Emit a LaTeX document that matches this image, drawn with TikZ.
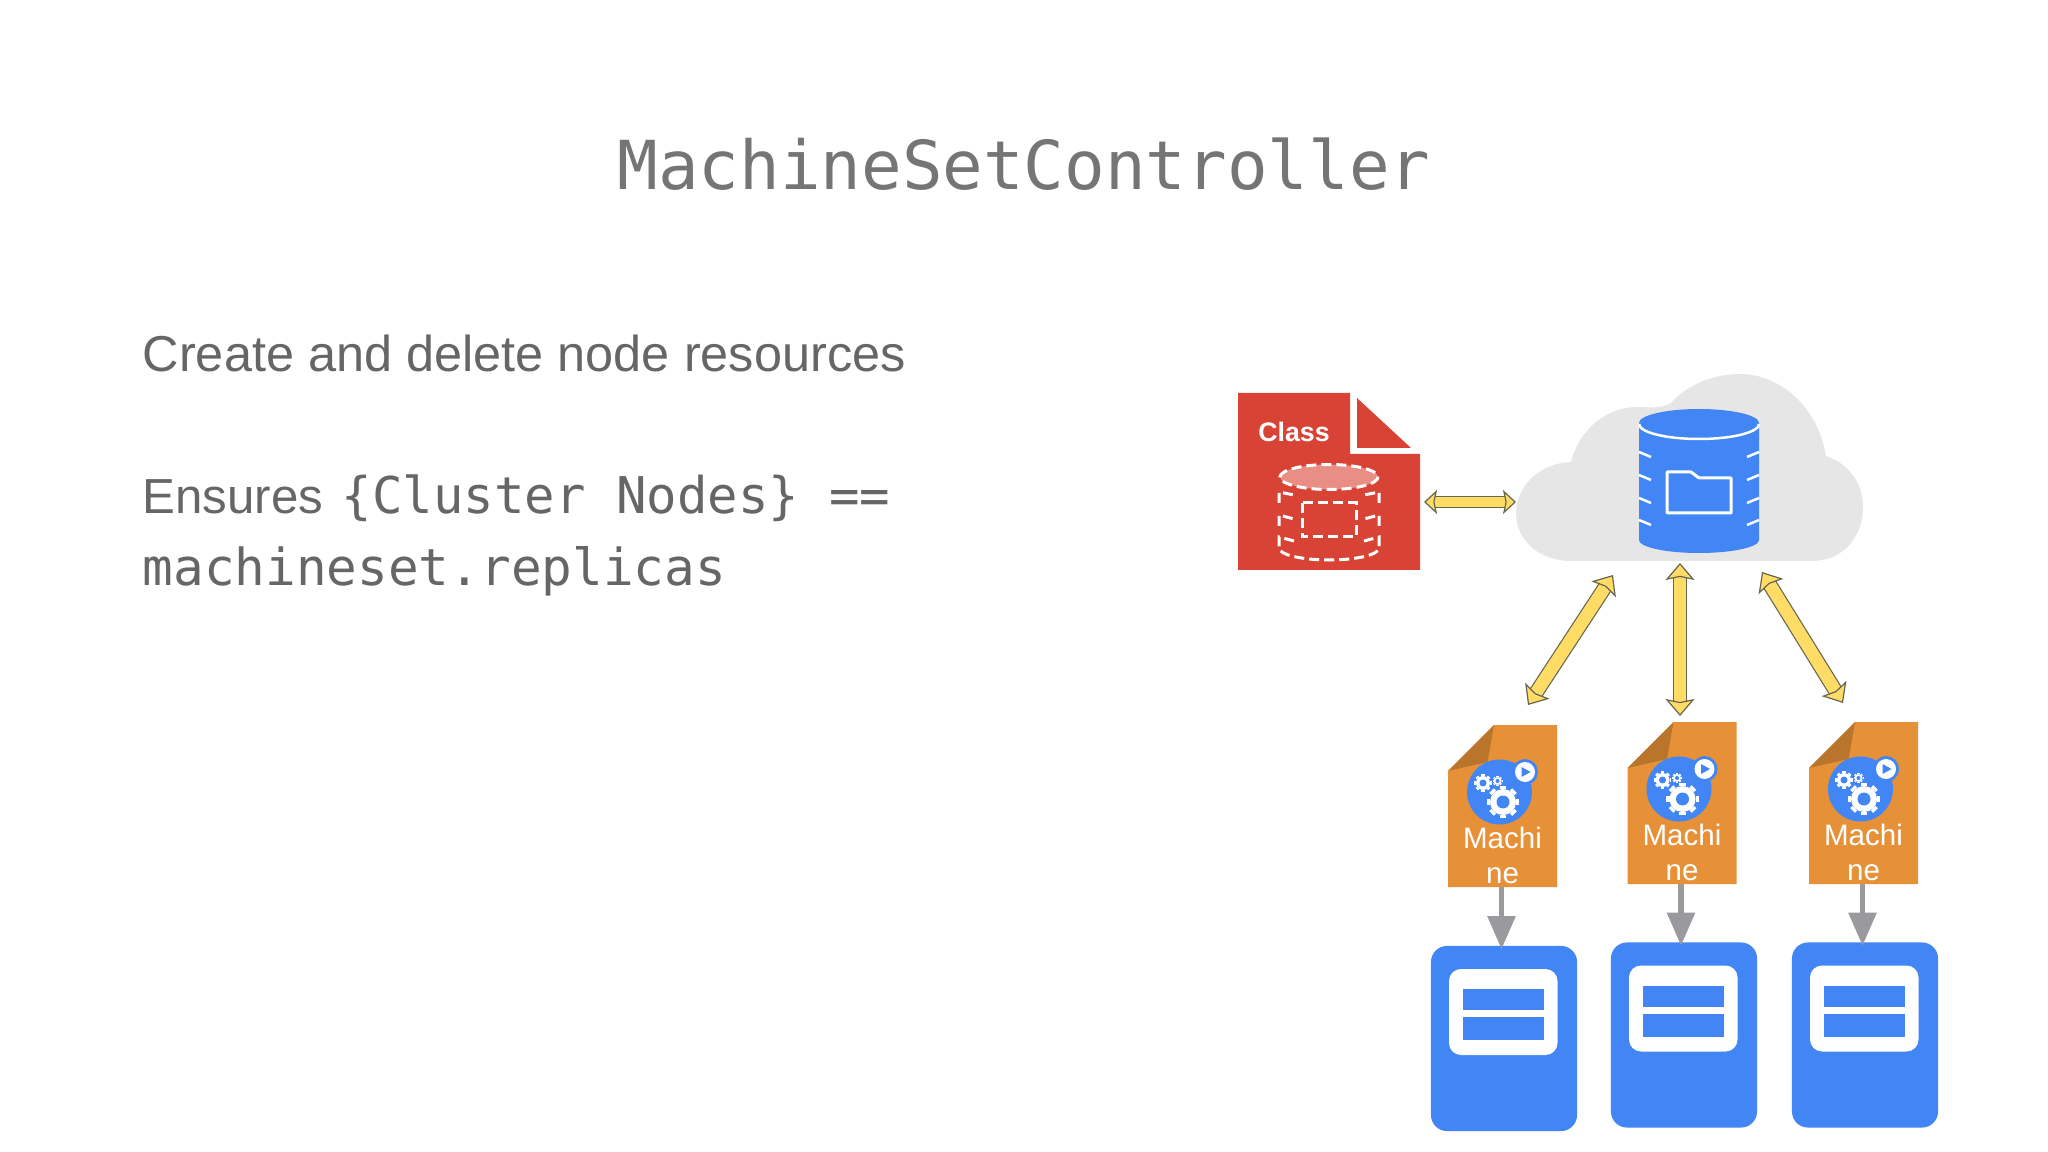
\documentclass[tikz,border=0pt]{standalone}
\usepackage{fontspec}
\setmainfont{Liberation Sans}
\setmonofont{DejaVu Sans Mono}
\usepackage{tikz}
\usetikzlibrary{arrows.meta}
\definecolor{titlegray}{HTML}{757575}
\definecolor{bodygray}{HTML}{666666}
\definecolor{gblue}{HTML}{4285F4}
\definecolor{gred}{HTML}{D94335}
\definecolor{gorange}{HTML}{E69138}
\definecolor{gfold}{HTML}{B8752B}
\definecolor{cloudgray}{HTML}{E6E6E6}
\definecolor{linkyellow}{HTML}{FFDC66}
\definecolor{linkedge}{HTML}{66654F}
\definecolor{pipegray}{HTML}{9A9A9E}
\tikzset{
	linkarrow/.style={draw=linkedge, line width=0.012cm, double=linkyellow, double distance=0.125cm,
		{Stealth[length=0.17cm, width=0.29cm, inset=0.03cm, fill=linkyellow, line width=0.012cm]}-{Stealth[length=0.17cm, width=0.29cm, inset=0.03cm, fill=linkyellow, line width=0.012cm]}},
	sidearrow/.style={linkarrow, double distance=0.105cm,
		{Stealth[length=0.13cm, width=0.24cm, inset=0.025cm, fill=linkyellow, line width=0.012cm]}-{Stealth[length=0.13cm, width=0.24cm, inset=0.025cm, fill=linkyellow, line width=0.012cm]}},
	pipearrow/.style={draw=pipegray, line width=0.055cm, shorten >=-0.04cm,
		-{Triangle[length=0.33cm, width=0.27cm, fill=pipegray]}},
	dashline/.style={draw=white, line width=0.03cm, dash pattern=on 0.1cm off 0.05cm},
	tickline/.style={draw=white, line width=0.025cm},
	serverbox/.style={fill=gblue, rounded corners=0.16cm, minimum width=1.46cm, minimum height=1.85cm, inner sep=0},
	machinetext/.style={text=white, inner sep=0, align=center, font=\fontsize{8.4}{10.2}\selectfont},
	bodytext/.style={text=bodygray, inner sep=0, anchor=base west}
}
\def\gearwheel(#1,#2)(#3:#4:#5){
	\fill[white] (#1,#2) circle (#3);
	\foreach \a in {0,45,...,315} \draw[white, line width=#4cm] (#1,#2) ++(\a:#3) -- ++(\a:#3*0.25);
	\fill[gblue] (#1,#2) circle (#5);
}
\def\machinedoc(#1)(#2,#3){
	\begin{scope}[shift={(#2,#3)}]
		\fill[gorange] (-8.5, 0) -- (54.5, 0) -- (54.5, 162) -- (-54.5, 162) -- (-54.5, 46) -- cycle;
		\fill[gfold] (-8.5, 0) -- (-54.5, 46) -- (-15, 37) -- cycle;
		\fill[gblue] (-3, 67) circle (32.5);
		\fill[gblue] (22.5, 47) circle (13);
		\fill[white] (22.5, 47) circle (10);
		\fill[gblue] (19, 42) -- (28, 47) -- (19, 52) -- cycle;
		\gearwheel(0.5,77)(13:0.065:6.5)
		\gearwheel(-19.5,58)(7:0.035:3.5)
		\gearwheel(-5,56)(4:0.022:2)
		\node[machinetext, anchor=north] (#1text) at (0, 101) {Machi\\ne};
		\coordinate (#1foot) at (-1, 162);
	\end{scope}
}
\def\serverbox(#1)(#2,#3){
	\node[serverbox] (#1) at (#2, #3) {};
	\fill[white, rounded corners=0.12cm] (#2-55, #3-69.5) rectangle (#2+53.5, #3+16.5);
	\fill[gblue] (#2-41, #3-49.5) rectangle (#2+40, #3-28.5);
	\fill[gblue] (#2-41, #3-21.5) rectangle (#2+40, #3+1.5);
}

\begin{document}
\begin{tikzpicture}[x=0.01cm, y=-0.01cm]
		%%%%% START %%%%%
		\useasboundingbox (0, 0) rectangle (2048, 1152);

		\node[text=titlegray, inner sep=0, anchor=base, font=\fontsize{19.2}{23}\ttfamily] (title) at (1024, 190) {MachineSetController};

		\node[bodytext, font=\fontsize{14.35}{20}\selectfont] (create) at (142, 372) {Create and delete node resources};
		\node[bodytext, font=\fontsize{14}{20}\selectfont] (ensures) at (142, 514) {Ensures};
		\node[bodytext, font=\fontsize{14.4}{20}\ttfamily] (cluster) at (341, 514) {\{Cluster Nodes\} ==};
		\node[bodytext, font=\fontsize{14.5}{20}\ttfamily] (replicas) at (142, 585) {machineset.replicas};

		% class file
		\fill[gred] (1238, 393) -- (1350, 393) -- (1350, 454) -- (1420, 454) -- (1420, 570) -- (1238, 570) -- cycle;
		\fill[gred] (1357, 398) -- (1411, 448) -- (1357, 448) -- cycle;
		\node[text=white, inner sep=0, anchor=base, font=\fontsize{7.6}{10}\bfseries] (class) at (1294, 442) {Class};
		\draw[dashline, fill=white, fill opacity=0.4] (1329, 477) ellipse (49 and 12.5);
		\draw[dashline] (1279, 503) -- (1279, 492) -- (1294, 495);
		\draw[dashline] (1379, 503) -- (1379, 492) -- (1364, 495);
		\draw[dashline] (1279, 526) -- (1279, 515) -- (1294, 519);
		\draw[dashline] (1379, 526) -- (1379, 515) -- (1364, 519);
		\draw[dashline] (1294, 541) -- (1279, 537) -- (1279, 548) arc (180:0:50 and 12) -- (1379, 537) -- (1364, 541);
		\draw[dashline] (1302, 503) rectangle (1356, 537);

		% cloud with the store
		\fill[cloudgray] (1571, 561) -- (1812, 561) .. controls (1843, 561) and (1863, 537) .. (1863, 507)
			.. controls (1863, 480) and (1845, 462) .. (1826, 456) .. controls (1818, 407) and (1780, 374) .. (1740, 374)
			.. controls (1709, 374) and (1684, 388) .. (1671, 403) .. controls (1660, 409) and (1650, 407) .. (1638, 407)
			.. controls (1600, 407) and (1577, 437) .. (1571, 462) .. controls (1539, 463) and (1516, 487) .. (1516, 513)
			.. controls (1516, 540) and (1539, 561) .. (1571, 561) -- cycle;
		\fill[gblue] (1639, 423) arc (180:360:60 and 14) -- (1759, 540) arc (0:180:60 and 13) -- cycle;
		\draw[white, line width=0.025cm] (1639, 424) arc (180:0:60 and 15);
		\draw[tickline] (1639, 452) -- (1651, 457);
		\draw[tickline] (1639, 475) -- (1651, 480);
		\draw[tickline] (1639, 498) -- (1651, 503);
		\draw[tickline] (1639, 520) -- (1651, 525);
		\draw[tickline] (1759, 452) -- (1747, 457);
		\draw[tickline] (1759, 475) -- (1747, 480);
		\draw[tickline] (1759, 498) -- (1747, 503);
		\draw[tickline] (1759, 520) -- (1747, 525);
		\draw[white, line width=0.03cm, line join=round] (1667, 472) -- (1691, 472) -- (1699, 478) -- (1731, 478) -- (1731, 513) -- (1667, 513) -- cycle;

		% machines and their servers
		\machinedoc(machineA)(1502.5,725)
		\machinedoc(machineB)(1682,722)
		\machinedoc(machineC)(1863.5,722)

		\serverbox(serverA)(1504,1038.5)
		\serverbox(serverB)(1684,1035)
		\serverbox(serverC)(1865,1035)

		\draw[pipearrow] (machineAfoot) -- (machineAfoot |- serverA.north);
		\draw[pipearrow] (machineBfoot) -- (machineBfoot |- serverB.north);
		\draw[pipearrow] (machineCfoot) -- (machineCfoot |- serverC.north);

		% links to the store
		\coordinate (classport) at (1424, 502);
		\coordinate (cloudwest) at (1516, 502);
		\coordinate (cloudA) at (1613, 575);
		\coordinate (cloudB) at (1680, 563);
		\coordinate (cloudC) at (1762, 572);
		\coordinate (portA) at (1528, 705);
		\coordinate (portB) at (1680, 716);
		\coordinate (portC) at (1843, 703);

		\draw[sidearrow] (classport) -- (cloudwest);
		\draw[linkarrow] (cloudA) -- (portA);
		\draw[linkarrow] (cloudB) -- (portB);
		\draw[linkarrow] (cloudC) -- (portC);
		%%%%% END %%%%%
	\end{tikzpicture}
\end{document}
